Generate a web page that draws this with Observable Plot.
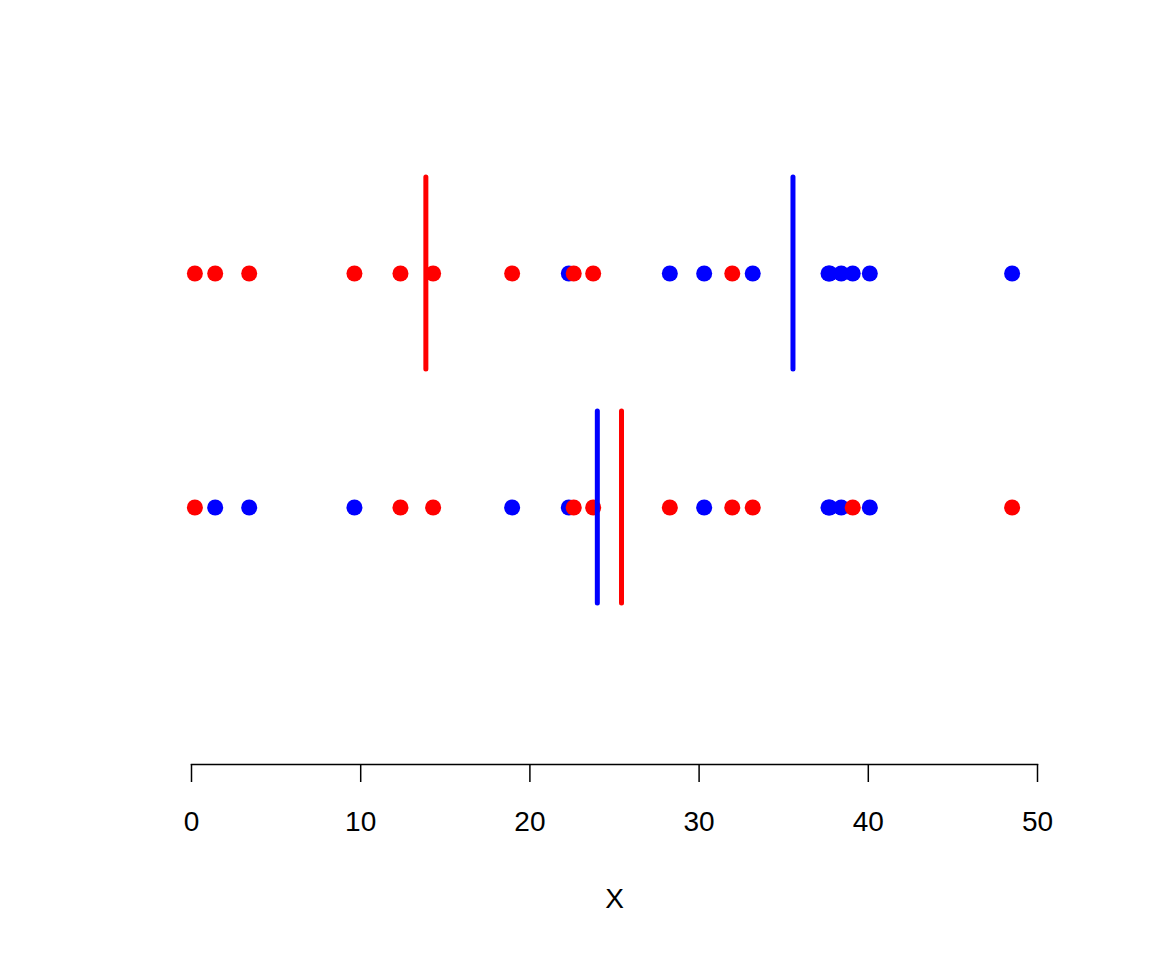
<!DOCTYPE html>
<html><head><meta charset="utf-8">
<script src="https://cdn.jsdelivr.net/npm/d3@7"></script>
<script src="https://cdn.jsdelivr.net/npm/@observablehq/plot@0.6"></script>
<style>body{margin:0;background:#fff}</style></head><body><div id="chart"></div>
<script>
const xValues = [0.2, 1.4, 3.41, 9.63, 12.35, 14.28, 18.95, 22.30, 22.59, 23.74, 28.27, 30.30, 31.96, 33.17, 37.65, 37.72, 38.40, 39.08, 40.09, 48.50];
const observedGroup = ["A","A","A","A","A","A","A","B","A","A","B","B","A","B","B","B","B","B","B","B"];
const permutedGroup = ["A","B","B","B","A","A","B","B","A","A","A","B","A","A","B","B","B","A","B","A"];
const groupNames = ["A","B"];
const groupColors = ["#ff0000","#0000ff"];
const xTicks = [0,10,20,30,40,50];
const axisLabel = "X";

const rows = [
  {row: 2, groups: observedGroup},
  {row: 1, groups: permutedGroup}
];
const points = rows.flatMap(r => xValues.map((x, i) => ({x, row: r.row, group: r.groups[i]})));
const means = rows.flatMap(r => groupNames.map(g => ({
  row: r.row, group: g,
  x: d3.mean(xValues.filter((_, i) => r.groups[i] === g))
})));

const chart = Plot.plot({
  width: 1152, height: 960,
  marginLeft: 191, marginRight: 115, marginBottom: 196, marginTop: 0,
  x: {domain: [0, 50]},
  y: {domain: [1, 2], range: [507, 273], axis: null},
  color: {domain: groupNames, range: groupColors},
  style: {fontFamily: "'Liberation Sans', Arial, sans-serif", fontSize: "28px", color: "black", background: "white"},
  marks: [
    Plot.frame({anchor: "bottom", strokeWidth: 1.5}),
    Plot.axisX({ticks: xTicks, tickSize: 18, tickPadding: 29, tickFormat: d => String(d), label: null, fontSize: 28, strokeWidth: 1.5}),
    Plot.dot(points, {x: "x", y: "row", r: 8, fill: "group"}),
    Plot.ruleX(means, {x: "x", y1: d => d.row - 0.41, y2: d => d.row + 0.41, stroke: "group", strokeWidth: 5, strokeLinecap: "round"}),
    Plot.text([axisLabel], {frameAnchor: "bottom", dy: 135, text: d => d, fontSize: 28, lineAnchor: "middle"})
  ]
});
document.getElementById("chart").appendChild(chart);
</script>
</body></html>
